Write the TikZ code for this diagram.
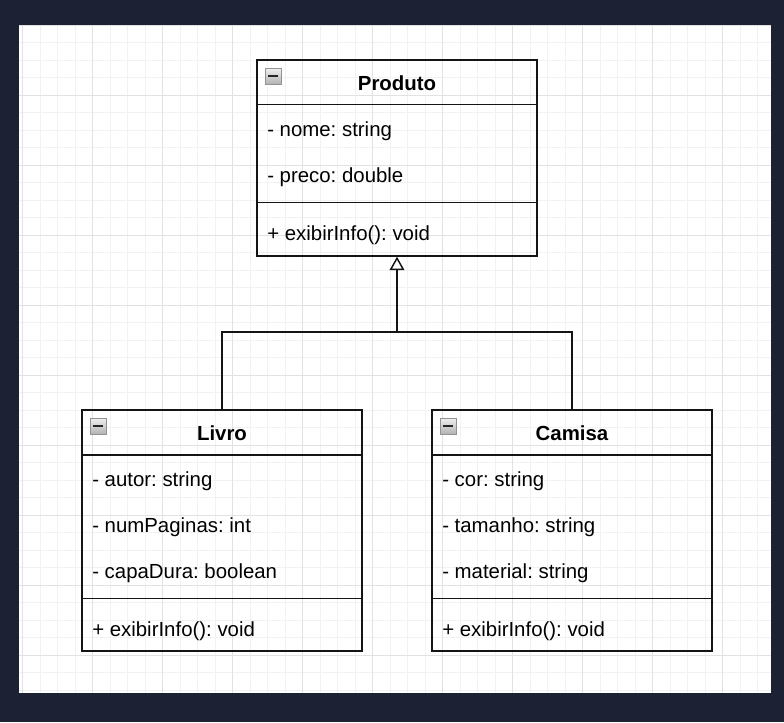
\documentclass[tikz,border=0pt]{standalone}
\usepackage{fontspec}
\setmainfont{Liberation Sans}
\usepackage{xcolor}
\usetikzlibrary{arrows.meta,positioning,calc}
\definecolor{bgdark}{RGB}{28,33,51}
\definecolor{gridminor}{RGB}{242,242,242}
\definecolor{gridmajor}{RGB}{226,226,226}
\definecolor{umlline}{RGB}{20,20,20}
\frenchspacing

\begin{document}
\begin{tikzpicture}[
  x=0.75pt, y=-0.75pt,
  font=\fontsize{15.3}{18}\selectfont,
  cls/.style={draw=umlline, line width=1.1pt, inner sep=0, minimum width=210pt},
  title/.style={anchor=base, inner sep=0, font=\fontsize{15.3}{18}\selectfont\bfseries},
  attr/.style={anchor=base west, inner sep=0},
  sep/.style={draw=umlline, line width=1.1pt},
  link/.style={draw=umlline, line width=1.1pt},
  icon/.style={minimum size=12pt, inner sep=0, draw=gray!85, line width=0.6pt,
               top color=gray!12, bottom color=gray!60,
               path picture={\draw[line width=1.5pt, black!85]
                 ($(path picture bounding box.west)+(2.2pt,0)$) --
                 ($(path picture bounding box.east)+(-2.2pt,0)$);}}
]
  \useasboundingbox (0,0) rectangle (784,722);
  % canvas
  \fill[bgdark] (0,0) rectangle (784,722);
  \fill[white] (19,25) rectangle (771,693);
  \foreach \i in {0,...,42} \draw[gridminor, line width=0.6pt] ({22.7+17.5*\i},25) -- ({22.7+17.5*\i},693);
  \foreach \i in {0,...,38} \draw[gridminor, line width=0.6pt] (19,{25+17.5*\i}) -- (771,{25+17.5*\i});
  \foreach \i in {0,...,10} \draw[gridmajor, line width=0.6pt] ({22.7+70*\i},25) -- ({22.7+70*\i},693);
  \foreach \i in {0,...,9} \draw[gridmajor, line width=0.6pt] (19,{25+70*\i}) -- (771,{25+70*\i});

  % Produto
  \node[cls, minimum height=147pt] (produto) at (397,158) {};
  \node[icon] (produto-i) at (273,76) {};
  \node[title] (produto-t) at (397,90.7) {Produto};
  \draw[sep] (produto.north west) ++(0,45) -- ++(280,0);
  \node[attr] (produto-a1) at (267,136.3) {- nome: string};
  \node[attr] (produto-a2) at (267,182.3) {- preco: double};
  \draw[sep] (produto.north west) ++(0,143) -- ++(280,0);
  \node[attr] (produto-m1) at (267,240.7) {+ exibirInfo(): void};

  % Livro
  \node[cls, minimum height=180.75pt] (livro) at (222,530.5) {};
  \node[icon] (livro-i) at (98,426) {};
  \node[title] (livro-t) at (222,440.7) {Livro};
  \draw[sep] (livro.north west) ++(0,45.5) -- ++(280,0);
  \node[attr] (livro-a1) at (92,486.3) {- autor: string};
  \node[attr] (livro-a2) at (92,532.3) {- numPaginas: int};
  \node[attr] (livro-a3) at (92,578.3) {- capaDura: boolean};
  \draw[sep] (livro.north west) ++(0,189) -- ++(280,0);
  \node[attr] (livro-m1) at (92,636.7) {+ exibirInfo(): void};

  % Camisa
  \node[cls, minimum height=180.75pt] (camisa) at (572,530.5) {};
  \node[icon] (camisa-i) at (448,426) {};
  \node[title] (camisa-t) at (572,440.7) {Camisa};
  \draw[sep] (camisa.north west) ++(0,45.5) -- ++(280,0);
  \node[attr] (camisa-a1) at (442,486.3) {- cor: string};
  \node[attr] (camisa-a2) at (442,532.3) {- tamanho: string};
  \node[attr] (camisa-a3) at (442,578.3) {- material: string};
  \draw[sep] (camisa.north west) ++(0,189) -- ++(280,0);
  \node[attr] (camisa-m1) at (442,636.7) {+ exibirInfo(): void};

  % generalization
  \coordinate (fork) at (397,332);
  \draw[link] (livro.north) |- (fork) -| (camisa.north);
  \draw[link, -{Triangle[open, length=10pt, width=11pt]}] (fork) -- (produto.south);
\end{tikzpicture}
\end{document}
